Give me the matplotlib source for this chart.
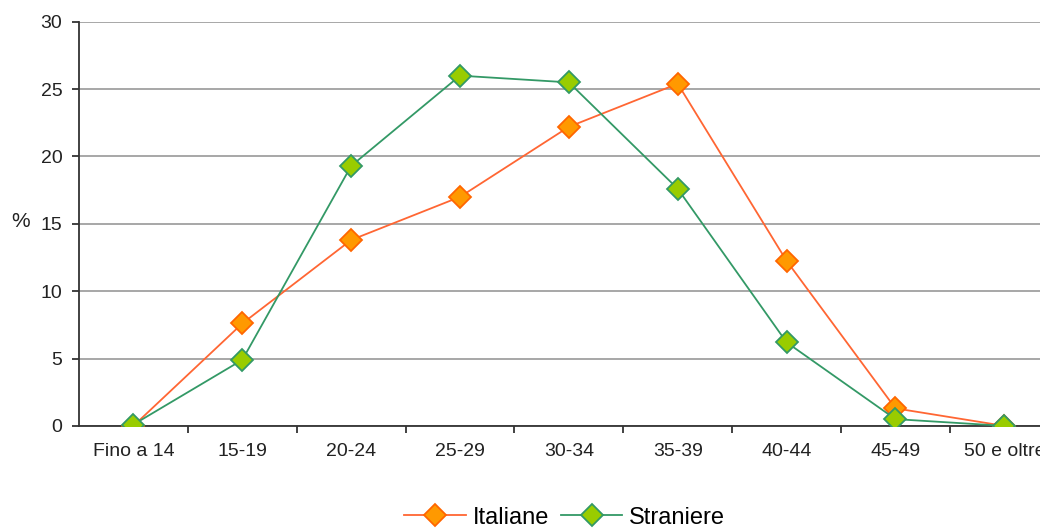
import matplotlib.pyplot as plt

plt.rcParams['font.family'] = ['Liberation Sans', 'DejaVu Sans']

# Age classes and shares (%)
age_classes = ['Fino a 14', '15-19', '20-24', '25-29', '30-34', '35-39', '40-44', '45-49', '50 e oltre']
italiane = [0.0, 7.6, 13.8, 17.0, 22.2, 25.4, 12.25, 1.3, 0.0]
straniere = [0.1, 4.9, 19.3, 26.0, 25.5, 17.6, 6.2, 0.5, 0.0]

fig = plt.figure(figsize=(10.4, 5.31), dpi=100)
ax = fig.add_axes([0.076, 0.198, 0.942, 0.761])

x = list(range(len(age_classes)))
ax.plot(x, italiane, color='#FF6633', lw=1.3, marker='D', ms=11,
        mfc='#FF9900', mec='#FF6600', mew=1.3, label='Italiane', zorder=3)
ax.plot(x, straniere, color='#339966', lw=1.3, marker='D', ms=11,
        mfc='#99CC00', mec='#339966', mew=1.3, label='Straniere', zorder=4)

ax.set_xlim(-0.5, 8.5)
ax.set_ylim(0, 30)
ax.set_yticks(range(0, 31, 5))
ax.set_xticks(x)
ax.set_xticklabels(age_classes)
ax.set_xticks([i + 0.5 for i in x], minor=True)

ax.grid(axis='y', color='#A0A0A0', lw=1.3)
ax.set_axisbelow(True)
for side in ['top', 'right']:
    ax.spines[side].set_visible(False)
for side in ['left', 'bottom']:
    ax.spines[side].set_color('#333333')
    ax.spines[side].set_linewidth(1.3)

ax.tick_params(axis='x', which='major', length=0, pad=12, labelsize=14, colors='#222222')
ax.tick_params(axis='x', which='minor', length=5, width=1.3, color='#333333')
ax.tick_params(axis='y', length=5, width=1.3, pad=7, labelsize=14, colors='#333333', labelcolor='#222222')

ax.set_ylabel('%', rotation=0, fontsize=15, color='#222222', va='center')
ax.yaxis.set_label_coords(-0.060, 0.505)

fig.legend(loc='center', bbox_to_anchor=(0.543, 0.025), ncol=2, frameon=False,
           fontsize=17, handlelength=2.6, handletextpad=0.3, columnspacing=0.5)

fig.savefig('out.png', dpi=100)
